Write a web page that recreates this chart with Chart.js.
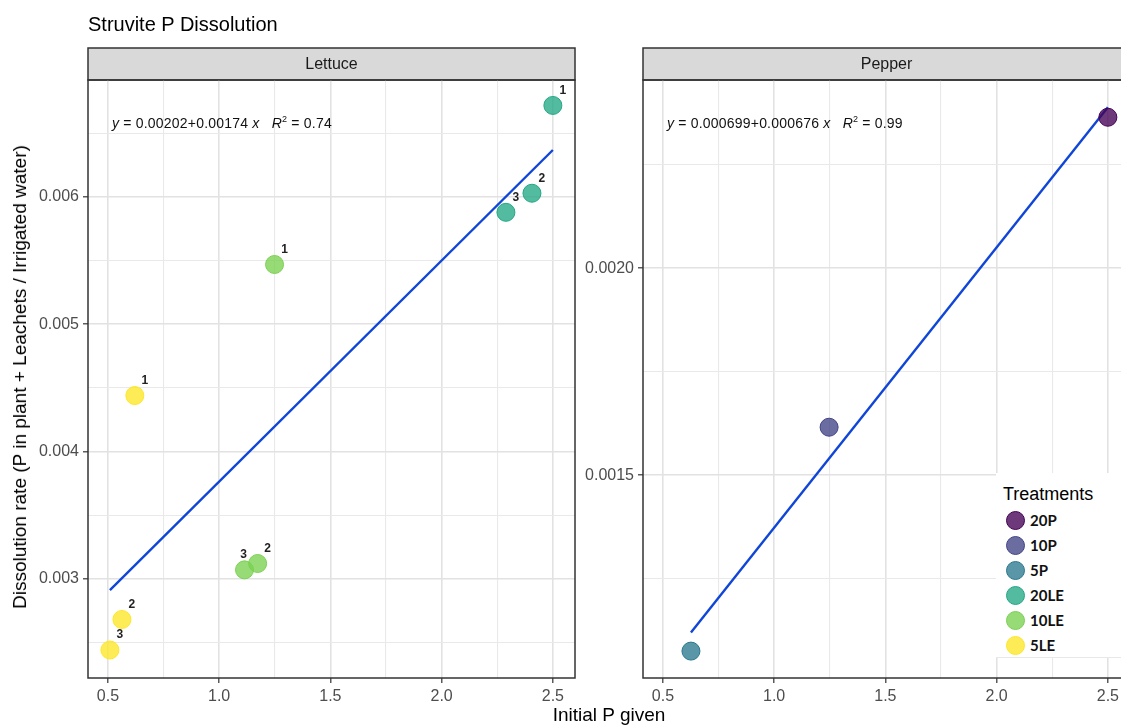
<!DOCTYPE html>
<html>
<head>
<meta charset="utf-8">
<script src="https://cdn.jsdelivr.net/npm/chart.js@4.4.1/dist/chart.umd.min.js"></script>
<style>
  body { margin: 0; background: #fff; }
  #page { position: relative; width: 1121px; height: 725px; overflow: hidden; font-family: 'Liberation Sans', Arial, sans-serif; }
  canvas { position: absolute; top: 0; }
  #title { position: absolute; left: 88px; top: 13px; font-size: 20px; color: #000; }
  #ylab { position: absolute; left: 20px; top: 377px; transform: translate(-50%, -50%) rotate(-90deg); white-space: nowrap; font-size: 19px; color: #000; }
  #xlab { position: absolute; left: 609px; top: 704px; transform: translateX(-50%); font-size: 19px; color: #000; white-space: nowrap; }
  .eq { position: absolute; top: 114px; font-family: 'Liberation Sans Narrow', 'Arial Narrow', 'Liberation Sans', sans-serif; font-size: 14px; color: #111; white-space: nowrap; letter-spacing: 0.2px; }
  .eq sup { font-size: 9px; }
  #legend { position: absolute; left: 996px; top: 473px; width: 130px; height: 184px; background: #fff; border-bottom: 1px solid #e8e8e8; }
  #legend .lt { position: absolute; left: 7px; top: 11px; font-size: 18px; color: #000; }
  #legend .it { position: absolute; left: 10px; height: 20px; display: flex; align-items: center; font-family: Lato, 'Open Sans', sans-serif; font-weight: bold; font-size: 15px; color: #111; }
  #legend .dot { width: 17px; height: 17px; border-radius: 50%; border: 1px solid; margin-right: 5px; }
</style>
</head>
<body>
<div id="page">
  <canvas id="lettuce" width="590" height="725" style="left:0"></canvas>
  <canvas id="pepper" width="590" height="725" style="left:560px"></canvas>
  <div id="title">Struvite P Dissolution</div>
  <div id="ylab">Dissolution rate (P in plant + Leachets / Irrigated water)</div>
  <div id="xlab">Initial P given</div>
  <div class="eq" style="left:112px"><i>y</i> = 0.00202+0.00174 <i>x</i>&nbsp;&nbsp;&nbsp;<i>R</i><sup>2</sup> = 0.74</div>
  <div class="eq" style="left:667px"><i>y</i> = 0.000699+0.000676 <i>x</i>&nbsp;&nbsp;&nbsp;<i>R</i><sup>2</sup> = 0.99</div>
  <div id="legend"><div class="lt">Treatments</div></div>
</div>
<script>
// treatments and colours (viridis)
const treatments = ["20P", "10P", "5P", "20LE", "10LE", "5LE"];
const baseColors = ["#440154", "#414487", "#2A788E", "#22A884", "#7AD151", "#FDE725"];

// lettuce points
const le20X = [2.5, 2.406, 2.289];
const le20Y = [0.00672, 0.00603, 0.00588];
const le10X = [1.249, 1.173, 1.114];
const le10Y = [0.00547, 0.00312, 0.00307];
const le5X = [0.621, 0.563, 0.509];
const le5Y = [0.00444, 0.00268, 0.00244];
const repLabels = ["1", "2", "3"];

// pepper points
const p20X = [2.5];
const p20Y = [0.002365];
const p10X = [1.247];
const p10Y = [0.001616];
const p5X = [0.626];
const p5Y = [0.001075];

// fitted lines (end points)
const fitLX = [0.509, 2.5];
const fitLY = [0.00291, 0.00637];
const fitPX = [0.626, 2.5];
const fitPY = [0.00112, 0.002389];

// axes
const xMajor = [0.5, 1, 1.5, 2, 2.5];
const xMinor = [0.75, 1.25, 1.75, 2.25];
const xTickLabels = ["0.5", "1.0", "1.5", "2.0", "2.5"];
const yMajorL = [0.003, 0.004, 0.005, 0.006];
const yMinorL = [0.0025, 0.0035, 0.0045, 0.0055, 0.0065];
const yTickLabelsL = ["0.003", "0.004", "0.005", "0.006"];
const yMajorR = [0.0015, 0.002];
const yMinorR = [0.00125, 0.00175, 0.00225];
const yTickLabelsR = ["0.0015", "0.0020"];

Chart.defaults.font.family = "'Liberation Sans', Arial, sans-serif";

function alpha(hex, a) {
  const n = parseInt(hex.slice(1), 16);
  return `rgba(${n >> 16}, ${(n >> 8) & 255}, ${n & 255}, ${a})`;
}

function pts(xs, ys) {
  return xs.map((x, i) => ({ x: x, y: ys[i] }));
}

function scale(min, max, major, minor, labels, pos, size) {
  const isMajor = v => major.some(m => Math.abs(m - v) < 1e-9);
  return {
    type: "linear",
    position: pos,
    min: min,
    max: max,
    afterBuildTicks: s => {
      s.ticks = major.concat(minor).sort((a, b) => a - b).map(v => ({ value: v }));
    },
    afterFit: s => {
      if (pos === "left") s.width = size; else s.height = size;
    },
    ticks: {
      autoSkip: false,
      maxRotation: 0,
      padding: 4,
      color: "#4d4d4d",
      font: { size: 16 },
      callback: v => {
        const i = major.findIndex(m => Math.abs(m - v) < 1e-9);
        return i < 0 ? "" : labels[i];
      }
    },
    grid: {
      color: c => isMajor(c.tick.value) ? "#e2e2e2" : "#e9e9e9",
      lineWidth: c => isMajor(c.tick.value) ? 1.6 : 1.1,
      tickLength: 5,
      tickWidth: 1.2,
      tickColor: c => isMajor(c.tick.value) ? "#333" : "rgba(0,0,0,0)"
    },
    border: { display: false }
  };
}

// strip on top, frame around the panel, rep numbers next to points
const panelDeco = {
  id: "panelDeco",
  beforeDraw(chart, args, opts) {
    const ctx = chart.ctx, a = chart.chartArea;
    ctx.save();
    ctx.fillStyle = "#d9d9d9";
    ctx.fillRect(a.left, 48, a.right - a.left, a.top - 48);
    ctx.strokeStyle = "#333";
    ctx.lineWidth = 1.5;
    ctx.strokeRect(a.left, 48, a.right - a.left, a.top - 48);
    ctx.fillStyle = "#1a1a1a";
    ctx.font = "16px 'Liberation Sans', Arial, sans-serif";
    ctx.textAlign = "center";
    ctx.textBaseline = "middle";
    ctx.fillText(opts.label, (a.left + a.right) / 2, (48 + a.top) / 2 + 1);
    ctx.restore();
  },
  afterDraw(chart, args, opts) {
    const ctx = chart.ctx, a = chart.chartArea;
    ctx.save();
    ctx.font = "bold 12px 'Liberation Sans', Arial, sans-serif";
    ctx.fillStyle = "#222";
    ctx.textAlign = "center";
    ctx.textBaseline = "middle";
    chart.data.datasets.forEach((ds, di) => {
      if (!ds.repLabels) return;
      chart.getDatasetMeta(di).data.forEach((el, i) => {
        const n = (opts.nudge || {})[ds.label + "-" + ds.repLabels[i]] || [10, -15];
        ctx.fillText(ds.repLabels[i], el.x + n[0], el.y + n[1]);
      });
    });
    ctx.strokeStyle = "#333";
    ctx.lineWidth = 1.5;
    ctx.strokeRect(a.left, a.top, a.right - a.left, a.bottom - a.top);
    ctx.restore();
  }
};

function pointSet(name, xs, ys, labels) {
  const c = baseColors[treatments.indexOf(name)];
  return {
    type: "scatter",
    label: name,
    data: pts(xs, ys),
    repLabels: labels,
    backgroundColor: alpha(c, 0.78),
    borderColor: c,
    borderWidth: 1,
    pointRadius: 9
  };
}

function fitSet(xs, ys) {
  return {
    type: "line",
    label: "fit",
    data: pts(xs, ys),
    borderColor: "#1046d8",
    borderWidth: 2.4,
    pointRadius: 0,
    fill: false
  };
}

function makePanel(id, label, datasets, yMin, yMax, yMajor, yMinor, yLabels, padding, yWidth, nudge) {
  new Chart(document.getElementById(id), {
    type: "scatter",
    data: { datasets: datasets },
    options: {
      responsive: false,
      animation: false,
      layout: { padding: padding },
      plugins: {
        legend: { display: false },
        tooltip: { enabled: false },
        panelDeco: { label: label, nudge: nudge }
      },
      scales: {
        x: scale(0.4105, 2.5995, xMajor, xMinor, xTickLabels, "bottom", 30),
        y: scale(yMin, yMax, yMajor, yMinor, yLabels, "left", yWidth)
      }
    },
    plugins: [panelDeco]
  });
}

makePanel("lettuce", "Lettuce", [
  pointSet("20LE", le20X, le20Y, repLabels),
  pointSet("10LE", le10X, le10Y, repLabels),
  pointSet("5LE", le5X, le5Y, repLabels),
  fitSet(fitLX, fitLY)
], 0.00222, 0.00692, yMajorL, yMinorL, yTickLabelsL,
  { left: 28, right: 15, top: 80, bottom: 17 }, 60, { "10LE-3": [-1, -15] });

makePanel("pepper", "Pepper", [
  pointSet("20P", p20X, p20Y),
  pointSet("10P", p10X, p10Y),
  pointSet("5P", p5X, p5Y),
  fitSet(fitPX, fitPY)
], 0.00101, 0.002455, yMajorR, yMinorR, yTickLabelsR,
  { left: 23, right: 20, top: 80, bottom: 17 }, 60, {});

// legend
const legend = document.getElementById("legend");
treatments.forEach((t, i) => {
  const it = document.createElement("div");
  it.className = "it";
  it.style.top = (37 + i * 25) + "px";
  const dot = document.createElement("span");
  dot.className = "dot";
  dot.style.background = alpha(baseColors[i], 0.78);
  dot.style.borderColor = baseColors[i];
  it.appendChild(dot);
  it.appendChild(document.createTextNode(t));
  legend.appendChild(it);
});
</script>
</body>
</html>
